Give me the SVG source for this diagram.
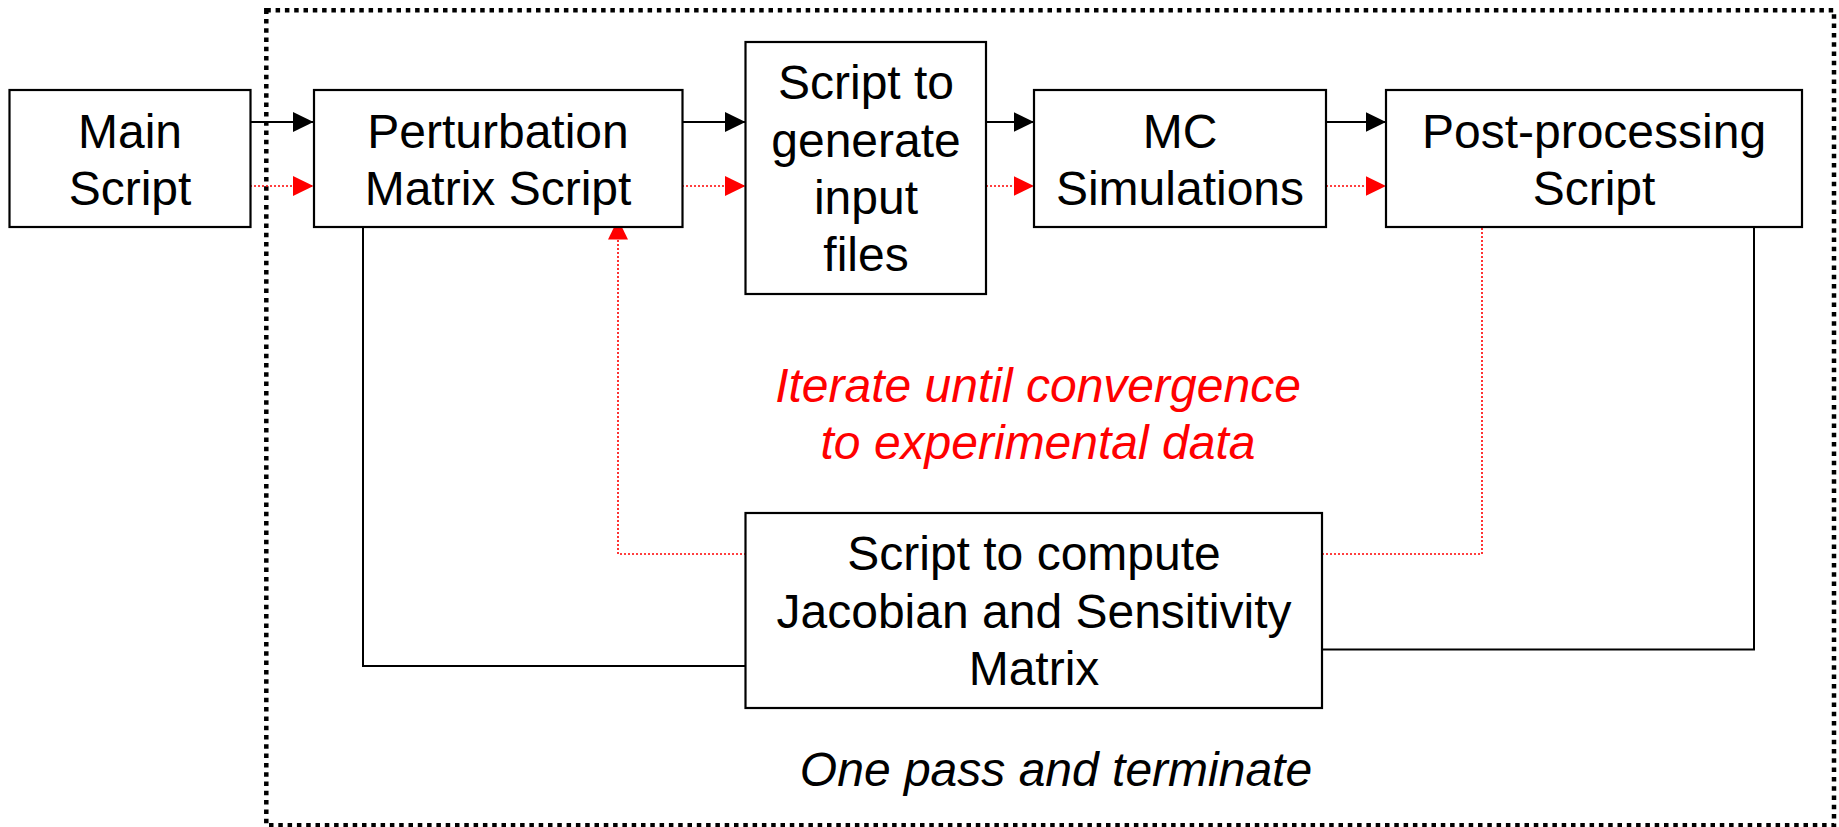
<svg xmlns="http://www.w3.org/2000/svg" width="1839" height="827" viewBox="0 0 1839 827">
<style>
.box{fill:#fff;stroke:#000;stroke-width:2.2}
.t{font-family:"Liberation Sans",Arial,sans-serif;font-size:48px;fill:#000;text-anchor:middle}
.ti{font-family:"Liberation Sans",Arial,sans-serif;font-size:48px;font-style:italic;text-anchor:middle}
.blk{fill:none;stroke:#000;stroke-width:2}
.red{fill:none;stroke:#f00;stroke-width:1.6;stroke-dasharray:2 2}
</style>
<defs>
<marker id="ab" markerUnits="userSpaceOnUse" markerWidth="21" markerHeight="20" refX="20.5" refY="10" orient="auto">
<path d="M0,0 L20.5,10 L0,20 z" fill="#000"/>
</marker>
<marker id="ar" markerUnits="userSpaceOnUse" markerWidth="21" markerHeight="20" refX="20.5" refY="10" orient="auto">
<path d="M0,0 L20.5,10 L0,20 z" fill="#f00"/>
</marker>
</defs>
<rect x="0" y="0" width="1839" height="827" fill="#fff"/>
<rect id="frame" x="266.3" y="10.3" width="1567.7" height="815" fill="none" stroke="#000" stroke-width="4.5" stroke-dasharray="4.5 4.8"/>
<g id="connectors">
<line class="blk" x1="250" y1="122" x2="313.5" y2="122" marker-end="url(#ab)"/>
<line class="red" x1="250" y1="186" x2="313.5" y2="186" marker-end="url(#ar)"/>
<line class="blk" x1="682" y1="122" x2="745.5" y2="122" marker-end="url(#ab)"/>
<line class="red" x1="682" y1="186" x2="745.5" y2="186" marker-end="url(#ar)"/>
<line class="blk" x1="986" y1="122" x2="1034" y2="122" marker-end="url(#ab)"/>
<line class="red" x1="986" y1="186" x2="1034" y2="186" marker-end="url(#ar)"/>
<line class="blk" x1="1322" y1="122" x2="1386" y2="122" marker-end="url(#ab)"/>
<line class="red" x1="1322" y1="186" x2="1386" y2="186" marker-end="url(#ar)"/>
<polyline class="blk" points="363,218 363,666 746,666"/>
<polyline class="blk" points="1754,218 1754,649.5 1322,649.5"/>
<polyline class="red" points="746,554 618,554 618,219" marker-end="url(#ar)"/>
<polyline class="red" points="1322,554 1482,554 1482,217"/>
</g>
<g id="main">
<rect class="box" x="9.5" y="90" width="241" height="137"/>
<text class="t" x="130" y="147.7">Main</text>
<text class="t" x="130" y="204.7">Script</text>
</g>
<g id="perturbation">
<rect class="box" x="314" y="90" width="368.5" height="137"/>
<text class="t" x="498" y="147.7">Perturbation</text>
<text class="t" x="498" y="204.7">Matrix Script</text>
</g>
<g id="generate">
<rect class="box" x="745.5" y="42" width="240.5" height="252"/>
<text class="t" x="866" y="99.3">Script to</text>
<text class="t" x="866" y="156.5">generate</text>
<text class="t" x="866" y="213.5">input</text>
<text class="t" x="866" y="271">files</text>
</g>
<g id="mc">
<rect class="box" x="1034" y="90" width="292" height="137"/>
<text class="t" x="1180" y="147.7">MC</text>
<text class="t" x="1180" y="204.7">Simulations</text>
</g>
<g id="post">
<rect class="box" x="1386" y="90" width="416" height="137"/>
<text class="t" x="1594" y="147.7">Post-processing</text>
<text class="t" x="1594" y="204.7">Script</text>
</g>
<g id="jacobian">
<rect class="box" x="745.5" y="513" width="576.5" height="195"/>
<text class="t" x="1034" y="570">Script to compute</text>
<text class="t" x="1034" y="628">Jacobian and Sensitivity</text>
<text class="t" x="1034" y="685">Matrix</text>
</g>
<g id="labels">
<text class="ti" x="1038" y="402.3" fill="#f00">Iterate until convergence</text>
<text class="ti" x="1038" y="459.3" fill="#f00">to experimental data</text>
<text class="ti" x="1056" y="786" fill="#000">One pass and terminate</text>
</g>
</svg>
